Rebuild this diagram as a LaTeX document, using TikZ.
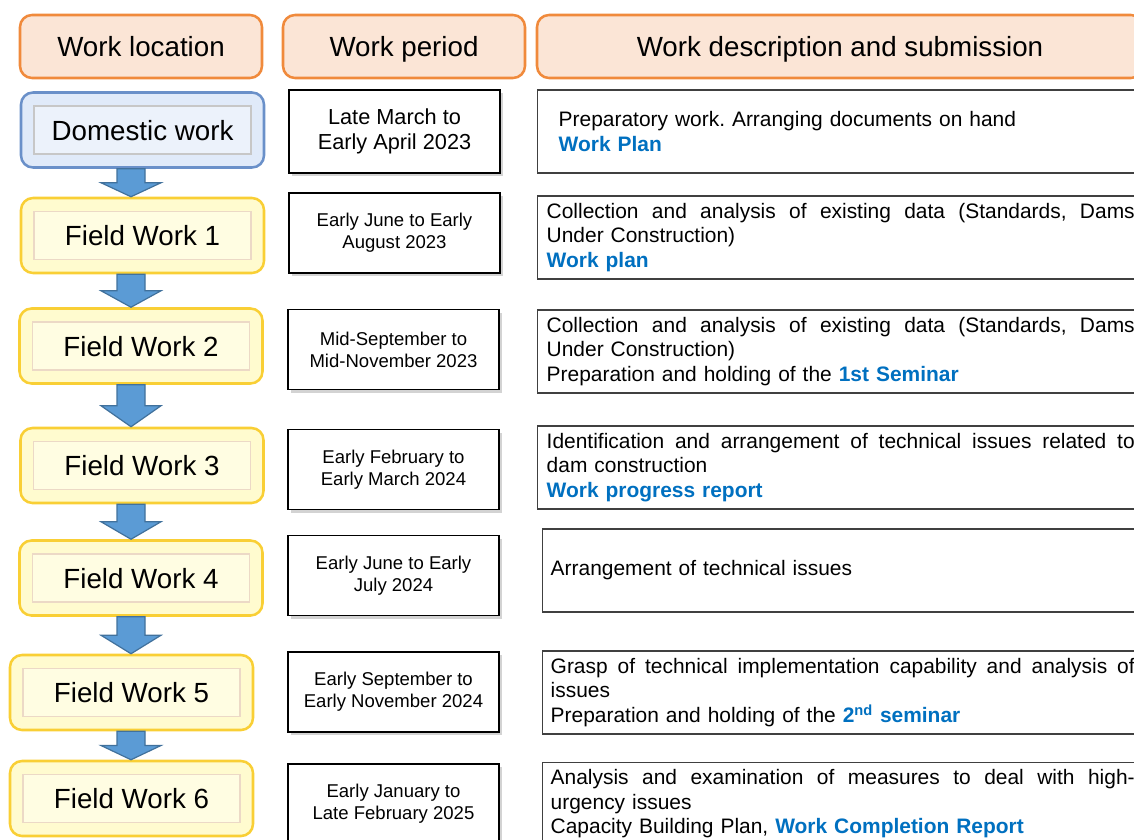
\documentclass[tikz,border=0pt]{standalone}
\usepackage{fontspec}
\setmainfont{Liberation Sans}
\usetikzlibrary{positioning,calc,shadows}

\definecolor{headfill}{HTML}{FBE5D6}
\definecolor{headline}{HTML}{F08A3C}
\definecolor{domfill}{HTML}{E0EAF9}
\definecolor{domline}{HTML}{6A90C9}
\definecolor{fwfill}{HTML}{FFFBCF}
\definecolor{fwline}{HTML}{F9CF35}
\definecolor{arrfill}{HTML}{5B9BD5}
\definecolor{arrline}{HTML}{41719C}
\definecolor{subblue}{HTML}{0070C0}

\frenchspacing
\newcommand\deliv[1]{\textcolor{subblue}{\bfseries #1}}
\newcommand\fullline[2]{\makebox[#1][s]{\spaceskip=0.278em plus 1fil\relax #2}}
% block arrow between two location boxes
\newcommand\flowarrow[2]{%
  \draw[flow] let \p1=(#1.south -| axis), \p2=(#2.north -| axis) in
    (\x1-10.5pt,\y1) -- (\x1+10.5pt,\y1) -- (\x1+10.5pt,{(\y1+\y2)/2})
    -- (\x1+22.5pt,{(\y1+\y2)/2}) -- (\p2) -- (\x1-22.5pt,{(\y1+\y2)/2})
    -- (\x1-10.5pt,{(\y1+\y2)/2}) -- cycle;}

\begin{document}
\begin{tikzpicture}[x=0.75pt,y=-0.75pt,
    head/.style={rounded corners=9pt,draw=headline,fill=headfill,line width=1.9pt,
      minimum height=47.25pt,text height=15.2pt,text depth=0pt,
      font=\fontsize{20.8}{24}\selectfont},
    loc/.style={rounded corners=9pt,line width=1.9pt,minimum width=182.25pt,minimum height=56.25pt},
    dom/.style={loc,draw=domline,fill=domfill},
    field/.style={loc,draw=fwline,fill=fwfill},
    plate/.style={line width=1.2pt,minimum width=162.75pt,minimum height=36pt,
      text height=15.2pt,text depth=0pt,font=\fontsize{20.8}{24}\selectfont},
    domplate/.style={plate,draw=black!22,fill=domfill!60!white},
    fieldplate/.style={plate,draw=brown!30,fill=fwfill!60!white},
    period/.style={draw=black,fill=white,line width=1.1pt,minimum width=158.25pt,
      minimum height=60pt,align=center,font=\fontsize{13.9}{16.5}\selectfont,
      drop shadow={shadow xshift=2.5pt,shadow yshift=-2.5pt,opacity=0.35}},
    desc/.style={draw=black!75,fill=white,line width=1.1pt,minimum height=62.25pt,
      anchor=west,align=left,inner xsep=6.75pt,text width=446.25pt,
      font=\fontsize{15.7}{18.4}\selectfont},
    flow/.style={draw=arrline,fill=arrfill,line width=0.9pt}]

    \useasboundingbox (0,0) rectangle (1134,839);
    \clip (0,0) rectangle (1134,839);

    % column heads
    \node[head,minimum width=181.5pt] (h1) at (141,46.5) {Work location};
    \node[head,minimum width=181.5pt] (h2) at (404,46.5) {Work period};
    \node[head,minimum width=454.5pt] (h3) at (840,46.5) {Work description and submission};

    % work location
    \node[dom] (dom) at (142.5,130) {};
    \node[domplate] at (dom) {Domestic work};
    \node[field] (fw1) at (142.5,235.5) {};
    \node[fieldplate] at (fw1) {Field Work 1};
    \node[field] (fw2) at (141,346) {};
    \node[fieldplate] at (fw2) {Field Work 2};
    \node[field] (fw3) at (142,465.5) {};
    \node[fieldplate] at (fw3) {Field Work 3};
    \node[field] (fw4) at (141,578) {};
    \node[fieldplate] at (fw4) {Field Work 4};
    \node[field] (fw5) at (131.5,692.5) {};
    \node[fieldplate] at (fw5) {Field Work 5};
    \node[field] (fw6) at (131.5,798.5) {};
    \node[fieldplate] at (fw6) {Field Work 6};

    \coordinate (axis) at (131,0);
    \flowarrow{dom}{fw1}
    \flowarrow{fw1}{fw2}
    \flowarrow{fw2}{fw3}
    \flowarrow{fw3}{fw4}
    \flowarrow{fw4}{fw5}
    \flowarrow{fw5}{fw6}

    % work period
    \node[period,minimum height=62.25pt,font=\fontsize{16.3}{18.8}\selectfont] (p0) at (394.5,131.5)
      {Late March to\\Early April 2023};
    \node[period] (p1) at (394.5,233) {Early June to Early\\August 2023};
    \node[period] (p2) at (393.5,349.5) {Mid-September to\\Mid-November 2023};
    \node[period] (p3) at (393.5,469.5) {Early February to\\Early March 2024};
    \node[period] (p4) at (393.5,575.5) {Early June to Early\\July 2024};
    \node[period] (p5) at (393.5,692) {Early September to\\Early November 2024};
    \node[period] (p6) at (393.5,804) {Early January to\\Late February 2025};

    % work description and submission
    \node[desc,inner xsep=15.75pt,text width=428.25pt] (d0) at (537,131.5)
      {Preparatory work. Arranging documents on hand\\\deliv{Work Plan}};
    \node[desc] (d1) at (537,237.5)
      {\fullline{441pt}{Collection and analysis of existing data (Standards, Dams}\\
       Under Construction)\\\deliv{Work plan}};
    \node[desc] (d2) at (537,351.5)
      {\fullline{441pt}{Collection and analysis of existing data (Standards, Dams}\\
       Under Construction)\\Preparation and holding of the \deliv{1st Seminar}};
    \node[desc] (d3) at (537,467.5)
      {\fullline{441pt}{Identification and arrangement of technical issues related to}\\
       dam construction\\\deliv{Work progress report}};
    \node[desc,inner xsep=6pt,text width=444pt] (d4) at (542,570.5)
      {Arrangement of technical issues};
    \node[desc,inner xsep=6pt,text width=444pt] (d5) at (542,692.5)
      {\fullline{438pt}{Grasp of technical implementation capability and analysis of}\\
       issues\\Preparation and holding of the \deliv{2\textsuperscript{nd} seminar}};
    \node[desc,inner xsep=6pt,text width=444pt] (d6) at (542,804)
      {\fullline{438pt}{Analysis and examination of measures to deal with high-}\\
       urgency issues\\Capacity Building Plan, \deliv{Work Completion Report}};
\end{tikzpicture}
\end{document}
